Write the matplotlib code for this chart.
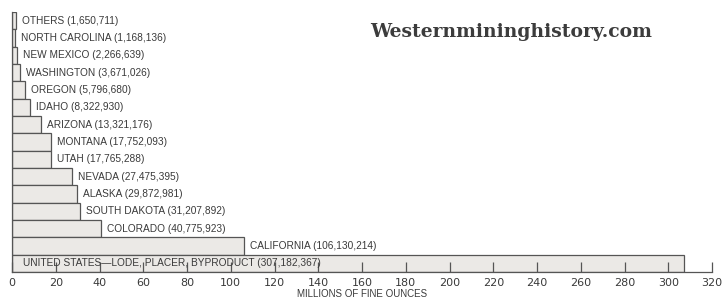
import matplotlib
matplotlib.use('Agg')

import numpy as np
import matplotlib.pyplot as plt

# gold production by state, fine ounces (top bar to bottom bar)
states = ["OTHERS", "NORTH CAROLINA", "NEW MEXICO", "WASHINGTON", "OREGON",
          "IDAHO", "ARIZONA", "MONTANA", "UTAH", "NEVADA", "ALASKA",
          "SOUTH DAKOTA", "COLORADO", "CALIFORNIA",
          "UNITED STATES\u2014LODE, PLACER, BYPRODUCT"]
ounces = [1650711, 1168136, 2266639, 3671026, 5796680, 8322930, 13321176,
          17752093, 17765288, 27475395, 29872981, 31207892, 40775923,
          106130214, 307182367]
xticks = list(range(0, 321, 20))

values_m = np.array(ounces) / 1e6
ypos = np.arange(len(states))[::-1]

fig = plt.figure(figsize=(7.25, 3.0), dpi=100)
ax = fig.add_axes([12/725, 1 - 272/300, 700/725, 260/300])

ink = '#3a3a3a'
lab = dict(fontsize=7.3, color=ink, family='Liberation Sans', va='center', ha='left')
ax.barh(ypos, values_m, height=1.0, left=0, color='#ebe9e6',
        edgecolor='#555555', linewidth=0.9)

for y, v, name, oz in zip(ypos, values_m, states, ounces):
    txt = f"{name} ({oz:,})"
    if v > 200:
        ax.text(5, y, txt, **lab)
    else:
        ax.annotate(txt, (v, y), xytext=(6, 0), textcoords='offset pixels', **lab)

ax.set_xlim(0, 320)
ax.set_ylim(-0.5, len(states) - 0.5)
ax.set_xticks(xticks)
ax.set_yticks([])
ax.tick_params(axis='x', direction='in', length=7, width=0.9, color='#555555',
               labelsize=8, labelcolor=ink, pad=4)
for s in ['top', 'right']:
    ax.spines[s].set_visible(False)
for s in ['left', 'bottom']:
    ax.spines[s].set_color('#555555')
    ax.spines[s].set_linewidth(0.9)

ax.set_xlabel("MILLIONS OF FINE OUNCES", fontsize=7.0, family='Liberation Sans',
              color=ink, labelpad=1)

fig.text(370/725, 1 - 32/300, "Westernmininghistory.com", fontsize=13.5,
         fontweight='bold', family='DejaVu Serif', color='#3c3c3c',
         va='center', ha='left')

plt.savefig("out.png", dpi=100)
